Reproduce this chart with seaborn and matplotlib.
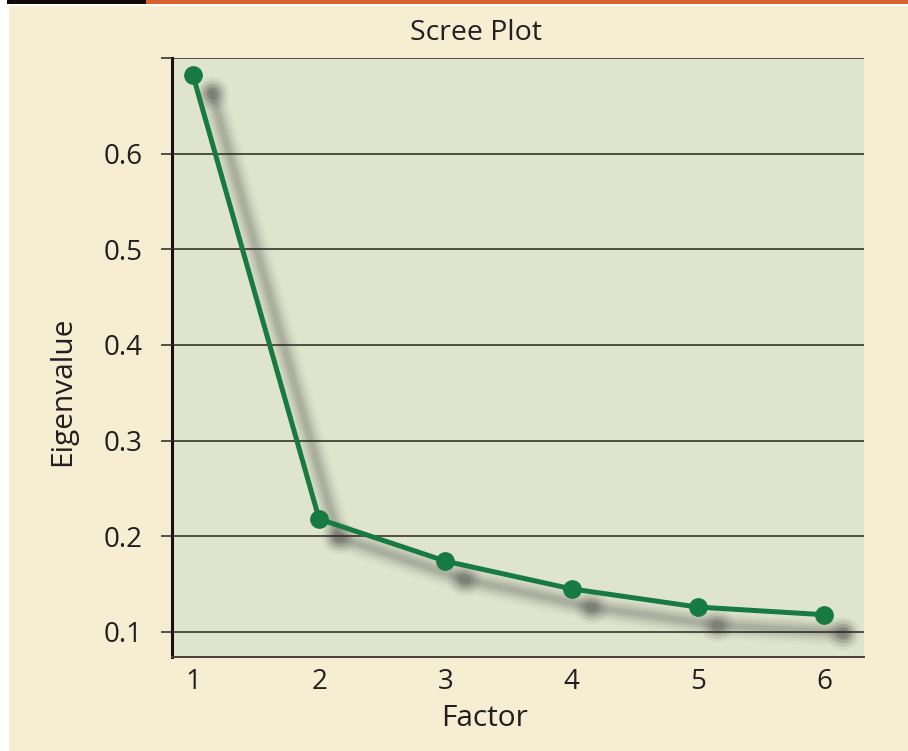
import matplotlib
matplotlib.use('Agg')
import matplotlib.pyplot as plt
import matplotlib.transforms as mtransforms
from matplotlib.patches import Rectangle
import seaborn as sns

# data
factors = [1, 2, 3, 4, 5, 6]
eigenvalues = [0.682, 0.218, 0.174, 0.145, 0.126, 0.118]
ytick_vals = [0.1, 0.2, 0.3, 0.4, 0.5, 0.6, 0.7]
ytick_labels = ['0.1', '0.2', '0.3', '0.4', '0.5', '0.6', '']

cream = '#f6edd3'
panel = '#dfe4cd'
green = '#177a41'

sns.set_theme(style='white')
plt.rcParams['font.family'] = ['Open Sans', 'DejaVu Sans']

fig = plt.figure(figsize=(9.08, 7.51), dpi=100)
fig.patch.set_facecolor('white')

# cream card, top bar
fig.patches.append(Rectangle((9 / 908, 0), 1, 1 - 6 / 751, transform=fig.transFigure,
                             facecolor=cream, edgecolor='none', zorder=-2))
fig.patches.append(Rectangle((7 / 908, 1 - 4 / 751), 139 / 908, 4 / 751, transform=fig.transFigure,
                             facecolor='#120704', edgecolor='none', zorder=-2))
fig.patches.append(Rectangle((146 / 908, 1 - 4 / 751), 1, 4 / 751, transform=fig.transFigure,
                             facecolor='#d9612b', edgecolor='none', zorder=-2))

ax = fig.add_axes([172 / 908, 1 - 657 / 751, (864 - 172) / 908, (657 - 58) / 751])
ax.set_zorder(1)
ax.set_facecolor(panel)

# blurred drop shadow, stacked soft layers
shadow_tr = mtransforms.offset_copy(ax.transData, fig=fig, x=19, y=-18, units='dots')
for w, a in [(20, 0.025), (16, 0.035), (13, 0.045), (10, 0.06), (7, 0.07), (4, 0.08)]:
    ax.plot(factors, eigenvalues, color='#2e2e2e', lw=w, alpha=a, transform=shadow_tr,
            solid_capstyle='round', solid_joinstyle='round', clip_on=False, zorder=1)
for m, a in [(24, 0.05), (19, 0.08), (14, 0.12), (9, 0.16)]:
    ax.plot(factors, eigenvalues, ls='none', marker='o', ms=m, color='#2e2e2e',
            mec='none', alpha=a, transform=shadow_tr, clip_on=False, zorder=1)

sns.lineplot(x=factors, y=eigenvalues, ax=ax, color=green, linewidth=3.6,
             marker='o', markersize=13.5, markeredgewidth=0, zorder=3)

ax.set_xlim(0.834, 6.317)
ax.set_ylim(0.0738, 0.7)
ax.set_yticks(ytick_vals)
ax.set_yticklabels(ytick_labels)
ax.set_xticks(factors)
ax.set_xticklabels([str(f) for f in factors])
ax.yaxis.grid(True, color='#2a2420', linewidth=1.1, zorder=2)
ax.set_axisbelow(False)
ax.tick_params(axis='y', length=8, width=1.1, color='#2a2420', pad=13, labelsize=20,
               labelcolor='#231f20', left=True)
ax.tick_params(axis='x', length=0, pad=8, labelsize=20, labelcolor='#231f20')
ax.set_xlabel('')
ax.set_ylabel('')

for s in ['top', 'right']:
    ax.spines[s].set_visible(False)
ax.spines['left'].set_color('#1a0f0a')
ax.spines['left'].set_linewidth(2.2)
ax.spines['bottom'].set_color('#4a4038')
ax.spines['bottom'].set_linewidth(1.4)

fig.text(476 / 908, 1 - 33 / 751, 'Scree Plot', ha='center', va='center', fontsize=20.5, color='#231f20')
fig.text(63 / 908, 1 - 391 / 751, 'Eigenvalue', ha='center', va='center', rotation=90,
         fontsize=21.5, color='#231f20')
fig.text(485 / 908, 1 - 718 / 751, 'Factor', ha='center', va='center', fontsize=21.5, color='#231f20')

fig.savefig('out.png', dpi=100, facecolor=fig.get_facecolor())
